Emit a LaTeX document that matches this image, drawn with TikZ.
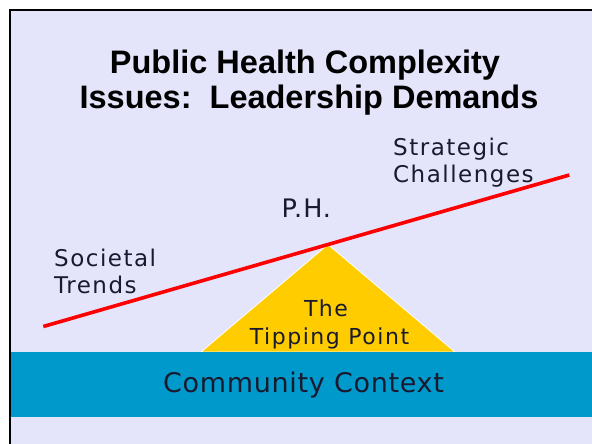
\documentclass[tikz,border=0pt]{standalone}
\usepackage{fontspec}
\setmainfont{DejaVu Sans}
\newfontfamily\titlefont{Liberation Sans}
\newfontfamily\lblfont[LetterSpace=6.5]{DejaVu Sans}
\newfontfamily\phfont[LetterSpace=4]{DejaVu Sans}
\newfontfamily\tipfont[LetterSpace=7]{DejaVu Sans}
\newfontfamily\commfont[LetterSpace=2.5]{DejaVu Sans}
\definecolor{bg}{HTML}{E4E4FB}
\definecolor{bandblue}{HTML}{0099CC}
\definecolor{tipyellow}{HTML}{FFCC00}
\definecolor{txt}{HTML}{1A1A2E}
\begin{document}
\begin{tikzpicture}[x=1pt,y=-1pt,
  lbl/.style={inner sep=0pt, anchor=base west, text=txt, font=\lblfont\fontsize{23}{27}\selectfont},
  ttl/.style={inner sep=0pt, anchor=base, text=black, font=\titlefont\bfseries\fontsize{32.5}{36}\selectfont},
  tip/.style={inner sep=0pt, anchor=base, text=txt, font=\tipfont\fontsize{22}{26}\selectfont}]
\useasboundingbox (0,0) rectangle (592,444);
\clip (0,0) rectangle (592,444);
% background and frame
\fill[white] (0,0) rectangle (592,444);
\fill[bg] (9.7,9.7) rectangle (600,450);
% fulcrum triangle
\coordinate (apex) at (328,244.5);
\coordinate (bl) at (201,352);
\coordinate (br) at (455,352);
\filldraw[fill=tipyellow, draw=white, line width=0.8pt] (bl) -- (apex) -- (br) -- cycle;
% community band
\fill[bandblue] (9.7,352) rectangle (600,417);
% frame line
\draw[black, line width=2pt] (9.7,450) -- (9.7,9.7) -- (600,9.7);
% lever
\coordinate (lend) at (43.3,326.5);
\coordinate (rend) at (569.3,175);
\draw[red, line width=3.6pt] (lend) -- (rend);
% title
\node[ttl] (t1) at (305,73.3) {Public Health Complexity};
\node[ttl] (t2) at (309,109) {Issues:\ \ Leadership Demands};
% labels
\node[lbl] (soc1) at (54,266.7) {Societal};
\node[lbl] (soc2) at (54,293.3) {Trends};
\node[lbl] (str1) at (393,155) {Strategic};
\node[lbl] (str2) at (393,182.7) {Challenges};
\node[lbl, font=\phfont\fontsize{25.5}{28}\selectfont] (ph) at (281.5,217.3) {P.H.};
\node[tip] (tp1) at (326,316.7) {The};
\node[tip] (tp2) at (329.5,344.3) {Tipping Point};
\node[inner sep=0pt, anchor=base, text=txt, font=\commfont\fontsize{27}{30}\selectfont] (comm) at (303.5,392.7) {Community Context};
\end{tikzpicture}
\end{document}
